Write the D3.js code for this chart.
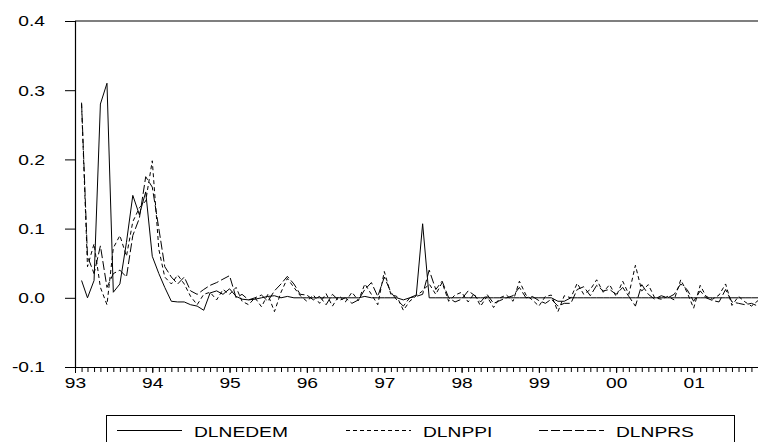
<!DOCTYPE html>
<html>
<head>
<meta charset="utf-8">
<script src="https://cdn.jsdelivr.net/npm/d3@7"></script>
<style>
  body { margin: 0; background: #fff; }
  text { font-family: "Liberation Sans", Arial, sans-serif; }
</style>
</head>
<body>
<div id="chart"></div>
<script>
// monthly observations, 1993:02 to 2001:11
const months = d3.timeMonth.range(new Date(1993, 1, 1), new Date(2001, 11, 1));

const dlnedem = [
  0.025, 0.000, 0.025, 0.280, 0.310, 0.008, 0.020, 0.080, 0.148, 0.120, 0.153,
  0.060, 0.035, 0.015, -0.005, -0.006, -0.006, -0.010, -0.012, -0.018, 0.007, 0.010, 0.005,
  0.013, 0.002, -0.002, -0.003, -0.002, 0.000, 0.002, 0.003, 0.000, 0.002, 0.000, 0.000,
  0.000, 0.000, 0.000, 0.000, 0.000, 0.000, 0.000, 0.000, 0.000, 0.002, 0.000, 0.000,
  0.000, 0.000, 0.000, -0.003, 0.000, 0.004, 0.107, 0.000, 0.000, 0.000, 0.000, 0.000,
  0.000, 0.000, 0.000, 0.000, 0.000, 0.000, 0.000, 0.000, 0.000, 0.000, 0.000, 0.000,
  0.000, 0.000, 0.000, -0.005, -0.005, 0.000, 0.000, 0.000, 0.000, 0.000, 0.000, 0.000,
  0.000, 0.000, 0.000, 0.000, 0.000, 0.000, 0.000, 0.000, 0.000, 0.000, 0.000, 0.000,
  0.000, 0.000, 0.000, 0.000, 0.000, 0.000, 0.000, 0.000, 0.000, 0.000, 0.000
];
const dlnppi = [
  0.280, 0.045, 0.078, 0.015, -0.010, 0.072, 0.090, 0.060, 0.110, 0.130, 0.140,
  0.198, 0.070, 0.030, 0.020, 0.033, 0.020, 0.002, -0.010, 0.005, 0.008, -0.003, 0.012,
  0.005, 0.015, -0.005, -0.010, 0.000, -0.013, 0.005, -0.020, 0.008, 0.028, 0.015, 0.003,
  -0.005, 0.004, -0.008, 0.006, -0.012, 0.003, -0.006, 0.008, -0.004, 0.020, 0.005, -0.010,
  0.038, 0.005, 0.002, -0.018, -0.005, 0.003, 0.010, 0.020, 0.005, 0.022, -0.005, 0.004,
  0.008, -0.006, 0.006, -0.012, 0.002, -0.014, 0.000, 0.004, -0.005, 0.024, 0.004, -0.003,
  -0.012, 0.002, 0.004, -0.020, 0.003, 0.000, 0.021, 0.005, 0.012, 0.026, 0.008, 0.019,
  0.002, 0.024, 0.005, 0.047, 0.010, 0.019, 0.000, -0.002, 0.002, -0.003, 0.026, 0.008,
  -0.015, 0.018, 0.002, -0.002, 0.004, 0.020, -0.011, 0.002, -0.006, -0.012, -0.004
];
const dlnprs = [
  0.282, 0.060, 0.035, 0.075, 0.015, 0.035, 0.040, 0.030, 0.090, 0.115, 0.175,
  0.160, 0.100, 0.045, 0.030, 0.020, 0.030, 0.010, 0.005, 0.012, 0.018, 0.022, 0.027,
  0.032, 0.000, 0.005, -0.003, 0.000, 0.004, -0.005, 0.010, 0.020, 0.031, 0.020, 0.005,
  0.004, -0.003, 0.002, -0.010, 0.005, -0.004, 0.000, -0.008, -0.003, 0.012, 0.022, 0.002,
  0.030, 0.008, -0.003, -0.012, 0.000, 0.002, 0.005, 0.040, 0.012, 0.024, 0.000, -0.006,
  -0.002, 0.010, 0.004, -0.006, 0.005, -0.008, -0.004, 0.000, 0.003, 0.015, 0.000, 0.002,
  -0.004, -0.008, -0.002, -0.012, -0.008, -0.008, 0.012, 0.016, 0.003, 0.018, 0.010, 0.012,
  0.005, 0.015, 0.002, -0.012, 0.019, 0.005, -0.002, 0.003, 0.000, 0.005, 0.020, 0.012,
  -0.005, 0.010, 0.000, -0.004, -0.006, 0.012, -0.006, -0.008, -0.010, -0.008, -0.012
];

const yTicks = [-0.1, 0.0, 0.1, 0.2, 0.3, 0.4];
const seriesNames = ['DLNEDEM', 'DLNPPI', 'DLNPRS'];
const dashes = [null, '4,3', '9,3'];

const width = 758;
const height = 442;
const margin = { left: 75, right: 0, top: 21, bottom: 75 };

const svg = d3.select('#chart')
  .append('svg')
  .attr('width', width)
  .attr('height', height);

// the original font is wider than Liberation Sans, so stretch the glyphs
function widen(sel) {
  sel.each(function () {
    const w = this.getComputedTextLength();
    d3.select(this)
      .attr('textLength', w * 1.28)
      .attr('lengthAdjust', 'spacingAndGlyphs');
  });
}

const x = d3.scaleTime()
  .domain([new Date(1993, 0, 1), new Date(2001, 10, 1)])
  .range([margin.left, width - margin.right]);

const y = d3.scaleLinear()
  .domain([-0.1, 0.4])
  .range([height - margin.bottom, margin.top]);

// top line of the frame
svg.append('line')
  .attr('x1', margin.left).attr('x2', width)
  .attr('y1', y(0.4)).attr('y2', y(0.4))
  .attr('stroke', '#000').attr('stroke-width', 1.2);

// y axis
const yAxis = svg.append('g')
  .attr('transform', `translate(${margin.left},0)`)
  .call(d3.axisLeft(y).tickValues(yTicks).tickFormat(d => d.toFixed(1)).tickSize(10).tickPadding(20));
yAxis.select('.domain').attr('stroke-width', 1.2);
yAxis.selectAll('text').style('font-size', '15px').attr('fill', '#000').call(widen);

// x axis: monthly minor ticks, yearly labels
const xAxisY = y(-0.1);
svg.append('g')
  .attr('transform', `translate(0,${xAxisY})`)
  .call(d3.axisBottom(x).ticks(d3.timeMonth.every(1)).tickSize(5).tickFormat(''))
  .call(g => g.select('.domain').remove());

const xAxis = svg.append('g')
  .attr('transform', `translate(0,${xAxisY})`)
  .call(d3.axisBottom(x).ticks(d3.timeYear.every(1)).tickSize(6).tickPadding(4)
    .tickFormat(d3.timeFormat('%y')).tickSizeOuter(0));
xAxis.select('.domain').attr('stroke-width', 1.2);
xAxis.selectAll('text').style('font-size', '15px').attr('fill', '#000').call(widen);

// series
const allSeries = [dlnedem, dlnppi, dlnprs];
const line = d3.line()
  .x((d, i) => x(months[i]))
  .y(d => y(d));

allSeries.forEach((vals, k) => {
  svg.append('path')
    .datum(vals)
    .attr('d', line)
    .attr('fill', 'none')
    .attr('stroke', '#000')
    .attr('stroke-width', 1)
    .attr('stroke-dasharray', dashes[k]);
});

// legend
const legend = svg.append('g');
legend.append('rect')
  .attr('x', 106.5).attr('y', 415.5)
  .attr('width', 628).attr('height', 40)
  .attr('fill', 'none').attr('stroke', '#000');

const legendX = [117, 346, 539];
seriesNames.forEach((name, k) => {
  legend.append('line')
    .attr('x1', legendX[k]).attr('x2', legendX[k] + 65)
    .attr('y1', 430.5).attr('y2', 430.5)
    .attr('stroke', '#000')
    .attr('stroke-dasharray', dashes[k]);
  legend.append('text')
    .attr('x', legendX[k] + 77).attr('y', 437)
    .style('font-size', '15px')
    .text(name)
    .call(widen);
});
</script>
</body>
</html>
